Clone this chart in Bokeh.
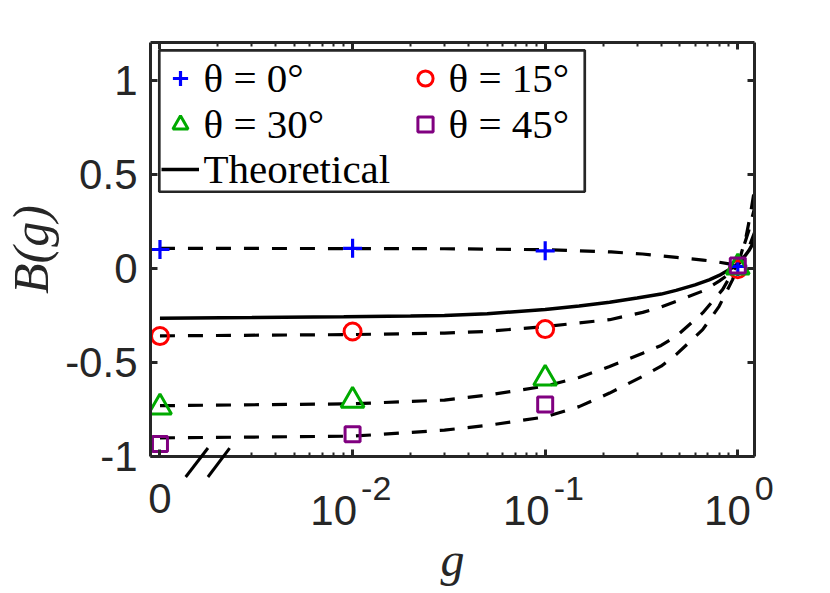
from bokeh.plotting import figure
from bokeh.models import (FixedTicker, LogAxis, LinearAxis, Legend, LegendItem,
                          BoxAnnotation, Range1d, CustomJSTickFormatter)
from bokeh.core.properties import value
from bokeh.embed import file_html
from bokeh.resources import INLINE

# ---------------- data ----------------
# measured points (g = 0 is drawn at the broken-axis position)
G_MEAS = [0.0, 0.01, 0.1, 1.0]
B_THETA_0 = [0.100, 0.106, 0.093, 0.010]
B_THETA_15 = [-0.360, -0.336, -0.323, -0.005]
B_THETA_30 = [-0.739, -0.703, -0.585, 0.005]
B_THETA_45 = [-0.933, -0.882, -0.724, 0.015]

# fitted (dashed) curves
FIT0_G = [0.001, 0.01, 0.03, 0.1, 0.22, 0.32, 0.48, 0.66, 0.76, 0.90, 1.0]
FIT0_B = [0.106, 0.105, 0.104, 0.099, 0.087, 0.076, 0.058, 0.044, 0.036, 0.024, 0.013]

FIT15_G = [0.001, 0.01, 0.03, 0.05, 0.1, 0.15, 0.216, 0.321, 0.4, 0.478, 0.657, 0.80, 0.90, 0.98, 1.06, 1.14, 1.221]
FIT15_B = [-0.359, -0.352, -0.344, -0.335, -0.310, -0.290, -0.273, -0.234, -0.205, -0.176, -0.121, -0.068, -0.030, 0.005, 0.050, 0.110, 0.190]

FIT30_G = [0.001, 0.01, 0.03, 0.05, 0.1, 0.15, 0.216, 0.321, 0.4, 0.478, 0.657, 0.835, 0.98, 1.06, 1.14, 1.221]
FIT30_B = [-0.730, -0.720, -0.700, -0.674, -0.626, -0.580, -0.522, -0.451, -0.410, -0.362, -0.237, -0.112, 0.012, 0.100, 0.200, 0.320]

FIT45_G = [0.001, 0.01, 0.03, 0.05, 0.1, 0.15, 0.216, 0.321, 0.4, 0.478, 0.657, 0.80, 0.94, 1.02, 1.10, 1.16, 1.221]
FIT45_B = [-0.901, -0.892, -0.860, -0.835, -0.790, -0.735, -0.663, -0.574, -0.520, -0.459, -0.326, -0.202, -0.060, 0.046, 0.160, 0.280, 0.420]

# theoretical (solid) curve
THEORY_G = [0.001, 0.003, 0.009, 0.02, 0.03, 0.05, 0.1, 0.15, 0.216, 0.3, 0.4, 0.478, 0.6, 0.71, 0.8, 0.9, 1.0, 1.06, 1.14, 1.221]
THEORY_B = [-0.265, -0.262, -0.258, -0.254, -0.251, -0.241, -0.219, -0.200, -0.180, -0.158, -0.137, -0.117, -0.088, -0.061, -0.038, -0.008, 0.022, 0.050, 0.093, 0.146]

LEGEND_LABELS = ["θ = 0°", "θ = 15°", "θ = 30°", "θ = 45°", "Theoretical"]

X_TICKS = [0.0, 0.01, 0.1, 1.0]
X_TICK_BASE = ["0", "10", "10", "10"]
X_TICK_EXP = ["", "-2", "-1", "0"]
Y_TICKS = [-1, -0.5, 0, 0.5, 1]
Y_TICK_LABELS = ["-1", "-0.5", "0", "0.5", "1"]

ZERO_AT = 1e-3  # where g = 0 sits on the broken log axis


def gpos(vals):
    return [ZERO_AT if v == 0 else v for v in vals]


AX = "#262626"
SANS = "Liberation Sans"
SERIF = "Liberation Serif"
Y0, Y1 = -1.0, 1.2
FRAME_H = 414


def below(px):
    """data y that lies px pixels under the bottom of the frame"""
    return Y0 - px * (Y1 - Y0) / FRAME_H


p = figure(x_axis_type="log", x_range=Range1d(8.93e-4, 1.221), y_range=Range1d(Y0, Y1),
           frame_width=604, frame_height=FRAME_H,
           min_border_left=145, min_border_right=57, min_border_top=42, min_border_bottom=121,
           output_backend="svg", toolbar_location=None,
           background_fill_color="white", border_fill_color="white")
p.outline_line_color = None
p.grid.visible = False

major_x = gpos(X_TICKS)
minor_top = [k * 10.0 ** e for e in (-3, -2, -1) for k in range(2, 10)]
minor_bottom = [m for m in minor_top if m > 2.5e-3]

empty = CustomJSTickFormatter(code="return ''")


def style_axis(ax):
    ax.axis_line_color = AX
    ax.axis_line_width = 3
    ax.major_tick_line_color = AX
    ax.major_tick_line_width = 3
    ax.minor_tick_line_color = AX
    ax.minor_tick_line_width = 2
    ax.major_tick_in = 7
    ax.major_tick_out = 0
    ax.minor_tick_in = 4
    ax.minor_tick_out = 0


# bottom axis
xa = p.xaxis[0]
xa.ticker = FixedTicker(ticks=major_x, minor_ticks=minor_bottom)
xa.formatter = empty
xa.major_label_text_font_size = "1px"
xa.major_label_standoff = 0
style_axis(xa)
xa.axis_label = "g"
xa.axis_label_text_font = SERIF
xa.axis_label_text_font_style = "italic"
xa.axis_label_text_font_size = "48px"
xa.axis_label_text_color = AX
xa.axis_label_standoff = 76

# left axis
ya = p.yaxis[0]
ya.ticker = FixedTicker(ticks=Y_TICKS)
ya.major_label_overrides = dict(zip(Y_TICKS, Y_TICK_LABELS))
ya.major_label_text_font = SANS
ya.major_label_text_font_size = "42px"
ya.major_label_text_color = AX
ya.major_label_standoff = 13
style_axis(ya)
ya.axis_label = "B(g)"
ya.axis_label_text_font = SERIF
ya.axis_label_text_font_style = "italic"
ya.axis_label_text_font_size = "50px"
ya.axis_label_text_color = AX
ya.axis_label_standoff = 3

# top and right box axes
top = LogAxis(ticker=FixedTicker(ticks=major_x, minor_ticks=minor_top), formatter=empty,
              major_label_text_font_size="1px", major_label_standoff=0)
style_axis(top)
p.add_layout(top, "above")
right = LinearAxis(ticker=FixedTicker(ticks=Y_TICKS), formatter=empty,
                   major_label_text_font_size="1px", major_label_standoff=0)
style_axis(right)
p.add_layout(right, "right")

# curves
DASH = "15 13"
for gx, by in [(FIT0_G, FIT0_B), (FIT15_G, FIT15_B), (FIT30_G, FIT30_B), (FIT45_G, FIT45_B)]:
    p.line(gx, by, line_color="black", line_width=3.2, line_dash=DASH)
r_th = p.line(THEORY_G, THEORY_B, line_color="black", line_width=3.5)

gm = gpos(G_MEAS)
r0 = p.scatter(gm, B_THETA_0, marker="cross", size=19, line_color="#0000ff", line_width=3.2)
r15 = p.scatter(gm, B_THETA_15, marker="circle", size=17, line_color="#ff0000",
                fill_color=None, line_width=3)
r30 = p.scatter(gm, B_THETA_30, marker="triangle", size=23, line_color="#00aa00",
                fill_color=None, line_width=3)
r45 = p.scatter(gm, B_THETA_45, marker="square", size=15, line_color="#800080",
                fill_color=None, line_width=3)

# axis-break marks
p.segment(x0=[1.36e-3, 1.775e-3], y0=[-1.109, -1.109], x1=[1.775e-3, 2.30e-3], y1=[-0.955, -0.955],
          line_color="black", line_width=3, level="overlay")

# x tick labels (with superscripts), drawn below the frame
for t, base, ex in zip(major_x, X_TICK_BASE, X_TICK_EXP):
    if ex == "":
        p.text(x=[t], y=[below(41.5)], text=[base], text_align="center",
               text_baseline="alphabetic", text_font=value(SANS), text_font_size="42px",
               text_color=AX, level="overlay")
    else:
        off = 13 if ex == "0" else 4.5
        p.text(x=[t], y=[below(54)], text=[base], x_offset=off, text_align="right",
               text_baseline="alphabetic", text_font=value(SANS), text_font_size="42px",
               text_color=AX, level="overlay")
        p.text(x=[t], y=[below(32)], text=[ex], x_offset=off + 4, text_align="left",
               text_baseline="alphabetic", text_font=value(SANS), text_font_size="34px",
               text_color=AX, level="overlay")

# legend box
p.add_layout(BoxAnnotation(left=0.992e-3, right=0.1605, top=1.1586, bottom=0.407,
                           fill_color="white", fill_alpha=1.0, line_color=AX, line_width=2.7,
                           line_alpha=1.0))

# legend: one single-row legend per entry, so that each row sits where it should
ROW_H = 50
PAD = 3
leg_kw = dict(orientation="vertical", glyph_width=38, glyph_height=ROW_H, label_height=ROW_H,
              label_standoff=5, padding=PAD, spacing=0, margin=0,
              border_line_alpha=0, background_fill_alpha=0,
              label_text_font=SERIF, label_text_font_size="41px", label_text_color="black")
FRAME_BOTTOM_SCREEN = 459.5
ROW_CENTERS = [81.5, 127.0, 172.0]
COL_X = [7.5, 252.5]
entries = [(0, 0, r0), (1, 0, r15), (0, 1, r30), (1, 1, r45), (0, 2, r_th)]
for (col, row, rend), lab in zip(entries, [LEGEND_LABELS[0], LEGEND_LABELS[1], LEGEND_LABELS[2],
                                           LEGEND_LABELS[3], LEGEND_LABELS[4]]):
    vy = FRAME_BOTTOM_SCREEN - (ROW_CENTERS[row] + ROW_H / 2 + PAD)
    p.add_layout(Legend(items=[LegendItem(label=lab, renderers=[rend])],
                        location=(COL_X[col], vy), **leg_kw))

open("out.html", "w").write(file_html(p, INLINE))
